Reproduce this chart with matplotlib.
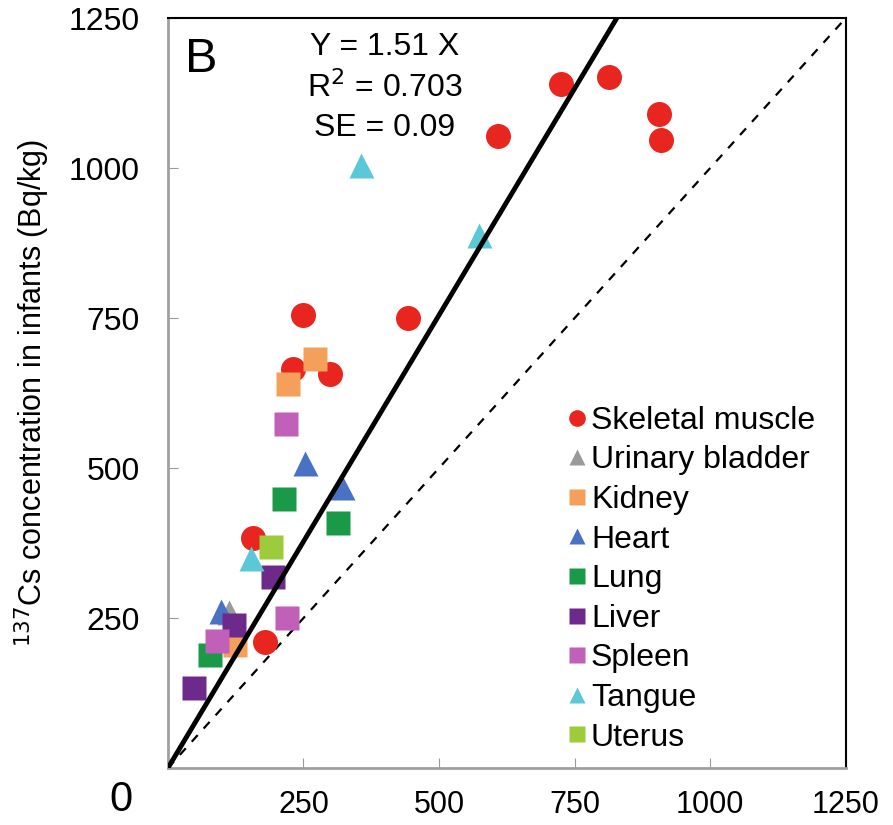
import matplotlib
matplotlib.use('Agg')
import matplotlib.pyplot as plt
from matplotlib.lines import Line2D
import numpy as np

plt.rcParams['font.family'] = ['Liberation Sans', 'DejaVu Sans']

# tissue concentrations: x = mothers? (Bq/kg), y = infants (Bq/kg)
muscle_x = [725, 813, 608, 905, 909, 249, 442, 230, 299, 157, 179]
muscle_y = [1140, 1152, 1053, 1090, 1047, 755, 750, 665, 657, 383, 210]
bladder_x = [112]
bladder_y = [260]
kidney_x = [271, 221, 124]
kidney_y = [682, 640, 205]
heart_x = [253, 321, 98]
heart_y = [508, 468, 262]
lung_x = [214, 313, 77]
lung_y = [448, 408, 188]
liver_x = [194, 122, 48]
liver_y = [318, 238, 133]
spleen_x = [218, 219, 90]
spleen_y = [573, 250, 212]
tangue_x = [356, 573, 153]
tangue_y = [1005, 888, 350]
uterus_x = [190]
uterus_y = [368]

slope = 1.51
ticks = [250, 500, 750, 1000, 1250]

series = [
    ('Skeletal muscle', muscle_x, muscle_y, 'o', '#e8261f', 18),
    ('Urinary bladder', bladder_x, bladder_y, '^', '#9a9a9a', 18),
    ('Kidney', kidney_x, kidney_y, 's', '#f5a05a', 17),
    ('Heart', heart_x, heart_y, '^', '#4a72c4', 18),
    ('Lung', lung_x, lung_y, 's', '#1a9a48', 17),
    ('Liver', liver_x, liver_y, 's', '#6e2a8a', 17),
    ('Spleen', spleen_x, spleen_y, 's', '#c060b8', 17),
    ('Tangue', tangue_x, tangue_y, '^', '#5bc8d8', 18),
    ('Uterus', uterus_x, uterus_y, 's', '#9ccb3c', 17),
]

fig = plt.figure(figsize=(8.93, 8.25), dpi=100)
ax = fig.add_axes([0.188, 0.069, 0.759, 0.909])

xx = np.array([0, 1300])
ax.plot(xx, xx, '--', color='black', lw=1.6, dashes=(4, 4), zorder=1)

handles = []
for name, x, y, m, c, ms in series:
    ax.plot(x, y, m, color=c, ms=ms, mec='none', zorder=2)
    handles.append(Line2D([], [], marker=m, color=c, ls='none', ms=12, mec='none'))

ax.plot(xx, slope * xx, '-', color='black', lw=3.5, zorder=3)

ax.set_xlim(0, 1250)
ax.set_ylim(0, 1250)
ax.set_xticks(ticks)
ax.set_yticks(ticks)
ax.set_xticklabels([str(t) for t in ticks], fontsize=22)
ax.set_yticklabels([str(t) for t in ticks], fontsize=23)
ax.tick_params(axis='x', direction='in', length=7, color='#999999', pad=16)
ax.tick_params(axis='y', direction='in', length=7, color='#999999', pad=20)

for s in ['left', 'bottom']:
    ax.spines[s].set_color('#a0a0a0')
    ax.spines[s].set_linewidth(2)
for s in ['top', 'right']:
    ax.spines[s].set_color('black')
    ax.spines[s].set_linewidth(1.5)

ax.set_ylabel('$^{137}$Cs concentration in infants (Bq/kg)', fontsize=22, labelpad=12)

ax.text(0.025, 0.975, 'B', transform=ax.transAxes, fontsize=35, va='top', ha='left')
ax.text(0.32, 0.982, 'Y = 1.51 X\nR$^2$ = 0.703\nSE = 0.09', transform=ax.transAxes,
        fontsize=23, va='top', ha='center', linespacing=1.38)

fig.text(0.135, 0.03, '0', fontsize=30, ha='center', va='center')

ax.legend(handles, [s[0] for s in series], loc='upper left', bbox_to_anchor=(0.57, 0.5),
          frameon=False, fontsize=23, handlelength=0.6, handletextpad=0.15,
          labelspacing=0.3, borderaxespad=0)

fig.savefig('out.png', dpi=100)
